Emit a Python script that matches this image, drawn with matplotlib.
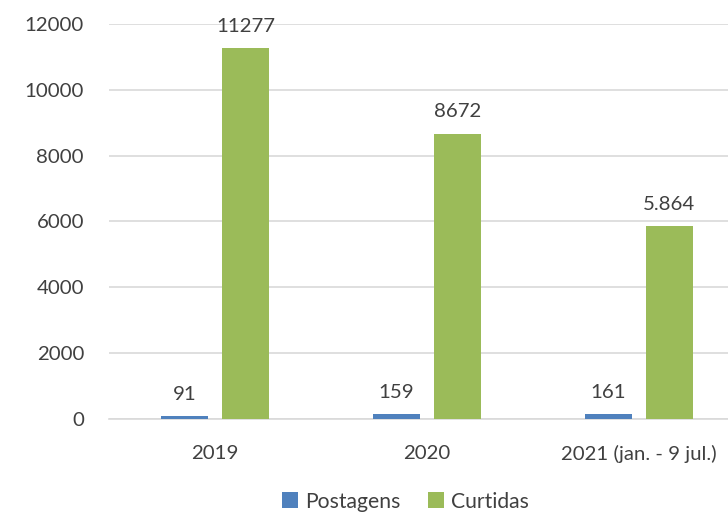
import matplotlib
matplotlib.use("Agg")
import matplotlib.pyplot as plt
import numpy as np

categories = ["2019", "2020", "2021 (jan. - 9 jul.)"]
postagens = [91, 159, 161]
curtidas = [11277, 8672, 5864]
post_labels = ["91", "159", "161"]
curt_labels = ["11277", "8672", "5.864"]
yticks = [0, 2000, 4000, 6000, 8000, 10000, 12000]

plt.rcParams['font.family'] = ['Lato', 'DejaVu Sans']
txt = '#404040'
fs = 14.7

fig = plt.figure(figsize=(7.28, 5.16), dpi=100)
ax = fig.add_axes([0.1497, 0.188, 0.8733, 0.7655])

x = np.arange(len(categories))
w = 0.222
off = 0.144
blue = '#4F81BD'
green = '#9BBB59'
b1 = ax.bar(x - off, postagens, w, color=blue, label='Postagens', zorder=3)
b2 = ax.bar(x + off, curtidas, w, color=green, label='Curtidas', zorder=3)

for xi, v, lab in zip(x - off, postagens, post_labels):
    ax.text(xi, v + 400, lab, ha='center', va='bottom', fontsize=fs, color=txt)
for xi, v, lab in zip(x + off, curtidas, curt_labels):
    ax.text(xi, v + 400, lab, ha='center', va='bottom', fontsize=fs, color=txt)

ax.set_xlim(-0.5, 2.5)
ax.set_ylim(0, 12000)
ax.set_yticks(yticks)
ax.set_yticklabels([str(t) for t in yticks])
ax.set_xticks(x)
ax.set_xticklabels(categories)
ax.tick_params(axis='both', length=0, labelsize=fs, colors=txt)
ax.tick_params(axis='y', pad=18)
ax.tick_params(axis='x', pad=19)
ax.grid(axis='y', color='#D9D9D9', linewidth=1.2, zorder=0)
for s in ['top', 'right', 'left']:
    ax.spines[s].set_visible(False)
ax.spines['bottom'].set_color('#D9D9D9')
ax.spines['bottom'].set_linewidth(1.2)

fig.legend(handles=[b1, b2], loc='center', bbox_to_anchor=(0.557, 0.028), ncol=2,
           frameon=False, fontsize=fs + 0.5, handlelength=0.75, handleheight=0.75,
           handletextpad=0.35, columnspacing=1.3, labelcolor=txt)

fig.savefig('out.png', dpi=100)
